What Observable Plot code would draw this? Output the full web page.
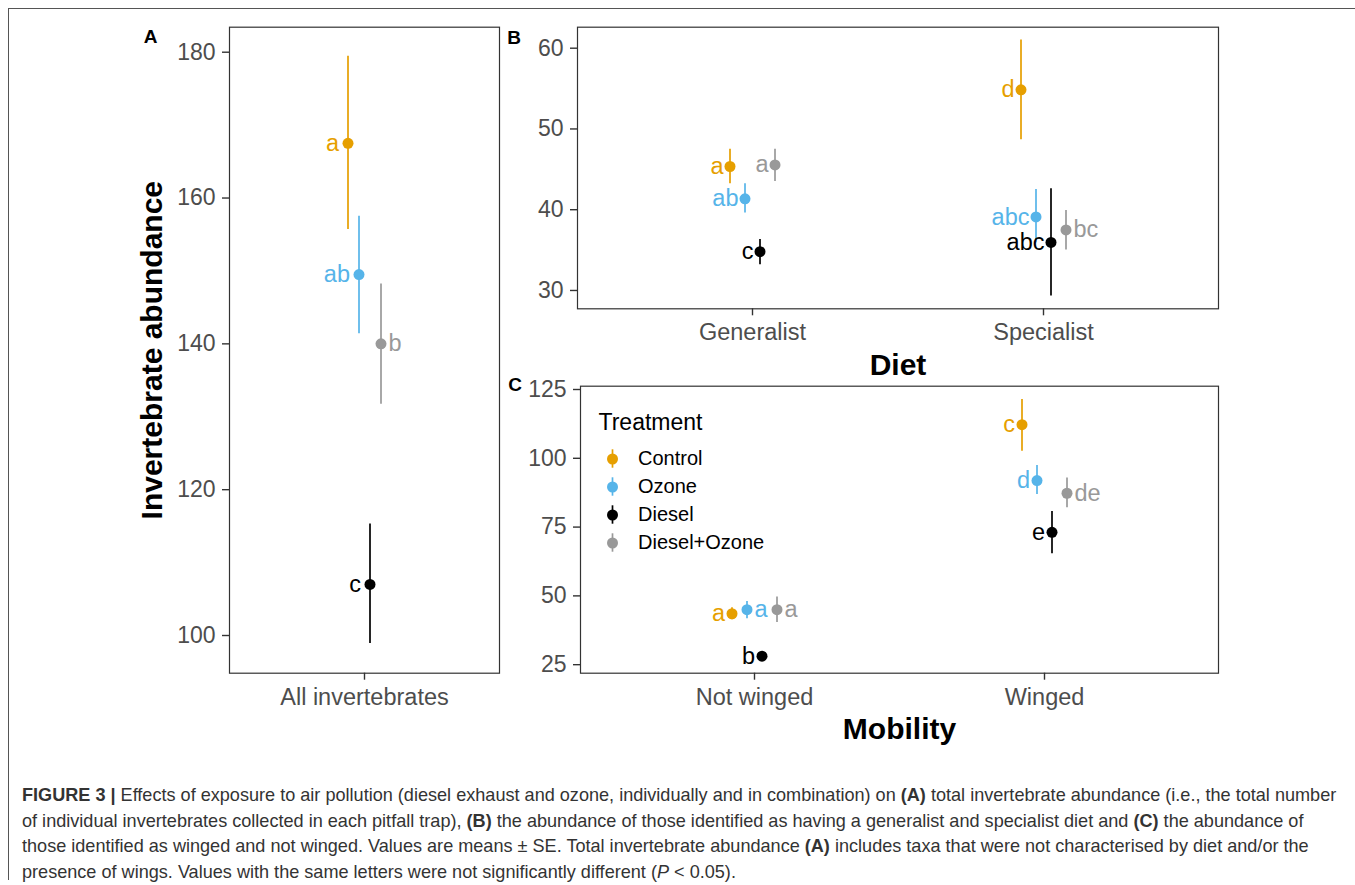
<!DOCTYPE html>
<html><head><meta charset="utf-8">
<script src="https://cdn.jsdelivr.net/npm/d3@7"></script>
<script src="https://cdn.jsdelivr.net/npm/@observablehq/plot@0.6"></script>
<style>
body{margin:0;background:#fff;}
#fig{position:relative;width:1355px;height:885px;overflow:hidden;background:#fff;font-family:"Liberation Sans",Arial,Helvetica,sans-serif;}
.abs{position:absolute;}
#topline{left:8px;top:8px;width:1347px;height:0;border-top:1.5px solid #555;}
#leftline{left:8px;top:8px;width:0;height:872px;border-left:1.5px solid #555;}
#caption{left:22px;top:783px;font-size:18.1px;line-height:25.6px;color:#333;white-space:nowrap;}
</style></head>
<body>
<div id="fig">
  <div id="topline" class="abs"></div>
  <div id="leftline" class="abs"></div>
  <div id="pa" class="abs" style="left:100px;top:0px"></div>
  <div id="pb" class="abs" style="left:500px;top:0px"></div>
  <div id="pc" class="abs" style="left:500px;top:370px"></div>
  <div id="leg" class="abs" style="left:590px;top:400px"></div>
  <div id="caption" class="abs">
    <div><b>FIGURE 3 |</b> Effects of exposure to air pollution (diesel exhaust and ozone, individually and in combination) on <b>(A)</b> total invertebrate abundance (i.e., the total number</div>
    <div>of individual invertebrates collected in each pitfall trap), <b>(B)</b> the abundance of those identified as having a generalist and specialist diet and <b>(C)</b> the abundance of</div>
    <div>those identified as winged and not winged. Values are means ± SE. Total invertebrate abundance <b>(A)</b> includes taxa that were not characterised by diet and/or the</div>
    <div>presence of wings. Values with the same letters were not significantly different (<i>P</i> &lt; 0.05).</div>
  </div>
</div>
<script>
const FONT = '"Liberation Sans", Arial, Helvetica, sans-serif';

const treatments = ["Control", "Ozone", "Diesel", "Diesel+Ozone"];
const treatmentColors = ["#E69F00", "#56B4E9", "#000000", "#999999"];

// Panel A: all invertebrates (rows: category, cols: treatment)
const allCats = ["All invertebrates"];
const allMean = [[167.5, 149.5, 107.0, 140.0]];
const allLow  = [[155.7, 141.4, 98.9, 131.7]];
const allHigh = [[179.45, 157.5, 115.3, 148.2]];
const allLetters = [["a", "ab", "c", "b"]];
const allLabelSide = [["left", "left", "left", "right"]];
const allTicks = [100, 120, 140, 160, 180];

// Panel B: diet
const dietCats = ["Generalist", "Specialist"];
const dietMean = [[45.35, 41.35, 34.8, 45.55], [54.85, 39.1, 35.95, 37.5]];
const dietLow  = [[43.2, 39.6, 33.2, 43.5], [48.65, 35.9, 29.3, 35.0]];
const dietHigh = [[47.5, 43.2, 36.3, 47.5], [61.0, 42.5, 42.6, 39.9]];
const dietLetters = [["a", "ab", "c", "a"], ["d", "abc", "abc", "bc"]];
const dietLabelSide = [["left", "left", "left", "left"], ["left", "left", "left", "right"]];
const dietTicks = [30, 40, 50, 60];

// Panel C: mobility
const mobCats = ["Not winged", "Winged"];
const mobMean = [[43.5, 45.0, 28.1, 45.0], [112.2, 91.9, 73.1, 87.3]];
const mobLow  = [[41.3, 41.7, 26.8, 40.3], [102.6, 86.8, 65.3, 82.0]];
const mobHigh = [[45.7, 48.0, 29.6, 49.6], [121.4, 97.4, 80.7, 92.8]];
const mobLetters = [["a", "a", "b", "a"], ["c", "d", "e", "de"]];
const mobLabelSide = [["left", "right", "left", "right"], ["left", "left", "left", "right"]];
const mobTicks = [25, 50, 75, 100, 125];

const colorScale = {domain: treatments, range: treatmentColors};

function panel(o) {
  const rows = [];
  o.cats.forEach((c, ci) => treatments.forEach((t, ti) => rows.push({
    cat: c, t, ti, mean: o.mean[ci][ti], lo: o.lo[ci][ti], hi: o.hi[ci][ti],
    letter: o.letters[ci][ti], side: o.sides[ci][ti]
  })));
  const marks = [
    Plot.frame({stroke: "#333", strokeWidth: 1.2}),
    Plot.axisY({ticks: o.yTicks, tickSize: 7, tickPadding: 7, fontSize: 23, fill: "#4d4d4d", stroke: "#333", strokeWidth: 1.4, label: null}),
    Plot.axisX({tickSize: 7, tickPadding: 8, fontSize: 23.5, fill: "#4d4d4d", stroke: "#333", strokeWidth: 1.4, label: null}),
    Plot.text([o.tag], {frameAnchor: "top-left", dx: o.tagDx, dy: o.tagDy, textAnchor: "middle", lineAnchor: "middle", fontSize: 19, fontWeight: "bold", fill: "#000"})
  ];
  if (o.yTitle) marks.push(Plot.text([o.yTitle], {frameAnchor: "left", rotate: -90, dx: o.yTitleDx, textAnchor: "middle", lineAnchor: "middle", fontSize: 30, fontWeight: "bold", fill: "#000"}));
  if (o.xTitle) marks.push(Plot.text([o.xTitle], {frameAnchor: "bottom", dy: o.xTitleDy, textAnchor: "middle", lineAnchor: "middle", fontSize: 30, fontWeight: "bold", fill: "#000"}));
  treatments.forEach((t, ti) => {
    const d = rows.filter(r => r.ti === ti);
    const dx = (ti - 1.5) * o.spacing;
    marks.push(Plot.ruleX(d, {x: "cat", y1: "lo", y2: "hi", stroke: "t", strokeWidth: 1.7, dx}));
    marks.push(Plot.dot(d, {x: "cat", y: "mean", r: 5.5, fill: "t", dx}));
    marks.push(Plot.text(d.filter(r => r.side === "left"), {x: "cat", y: "mean", text: "letter", fill: "t", dx: dx - o.gapLeft, textAnchor: "end", lineAnchor: "middle", fontSize: 23.5}));
    marks.push(Plot.text(d.filter(r => r.side === "right"), {x: "cat", y: "mean", text: "letter", fill: "t", dx: dx + 7.5, textAnchor: "start", lineAnchor: "middle", fontSize: 23.5}));
  });
  return Plot.plot({
    width: o.width, height: o.height,
    marginLeft: o.ml, marginRight: o.mr, marginTop: o.mt, marginBottom: o.mb,
    style: {background: "transparent", fontFamily: FONT, overflow: "visible"},
    x: {type: "point", domain: o.cats, padding: 0.6},
    y: {domain: o.yDomain},
    color: colorScale,
    marks
  });
}

document.getElementById("pa").append(panel({
  cats: allCats, mean: allMean, lo: allLow, hi: allHigh, letters: allLetters, sides: allLabelSide,
  yTicks: allTicks, yDomain: [94.83, 183.43], spacing: 11, gapLeft: 9,
  width: 400, height: 720, ml: 129, mr: 1, mt: 26.7, mb: 47.3,
  tag: "A", tagDx: -79, tagDy: 9.3,
  yTitle: "Invertebrate abundance", yTitleDx: -77
}));

document.getElementById("pb").append(panel({
  cats: dietCats, mean: dietMean, lo: dietLow, hi: dietHigh, letters: dietLetters, sides: dietLabelSide,
  yTicks: dietTicks, yDomain: [27.73, 62.6], spacing: 15, gapLeft: 6.5,
  width: 740, height: 390, ml: 77, mr: 22, mt: 26.7, mb: 81.7,
  tag: "B", tagDx: -63.5, tagDy: 10.3,
  xTitle: "Diet", xTitleDy: 57
}));

document.getElementById("pc").append(panel({
  cats: mobCats, mean: mobMean, lo: mobLow, hi: mobHigh, letters: mobLetters, sides: mobLabelSide,
  yTicks: mobTicks, yDomain: [21.9, 126.2], spacing: 15, gapLeft: 7,
  width: 740, height: 390, ml: 80, mr: 22, mt: 15.7, mb: 87.3,
  tag: "C", tagDx: -65.5, tagDy: -1.7,
  xTitle: "Mobility", xTitleDy: 56.3
}));

// Legend (inside panel C)
document.getElementById("leg").append(Plot.plot({
  width: 220, height: 170, margin: 0,
  style: {background: "transparent", fontFamily: FONT, overflow: "visible"},
  x: {type: "point", domain: ["key"], range: [22, 22], axis: null},
  y: {type: "band", domain: treatments, range: [42.85, 158.45], axis: null},
  color: colorScale,
  marks: [
    Plot.text(["Treatment"], {frameAnchor: "top-left", dx: 8, dy: 21.7, textAnchor: "start", lineAnchor: "middle", fontSize: 23, fill: "#000"}),
    Plot.tickX(treatments, {x: () => "key", y: d => d, stroke: d => d, strokeWidth: 1.7, insetTop: 3.3, insetBottom: 3.3}),
    Plot.dot(treatments, {x: () => "key", y: d => d, fill: d => d, r: 5.5}),
    Plot.text(treatments, {x: () => "key", y: d => d, text: d => d, dx: 25.5, textAnchor: "start", lineAnchor: "middle", fontSize: 20, fill: "#000"})
  ]
}));
</script>
</body></html>
